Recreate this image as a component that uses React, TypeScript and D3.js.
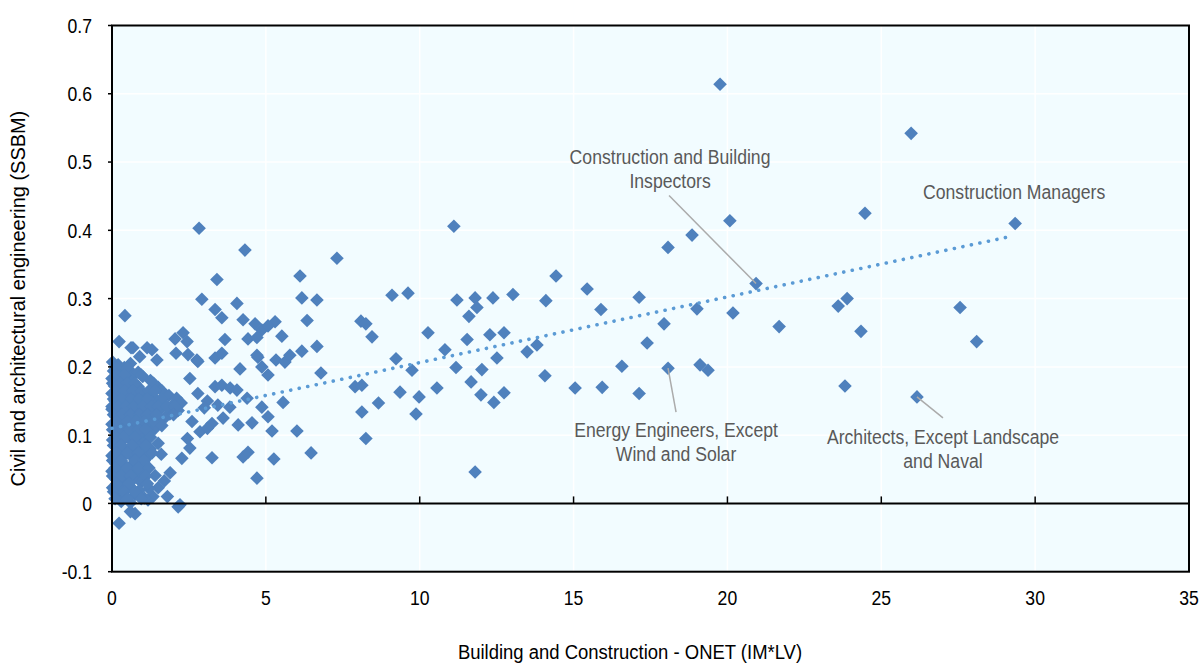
import React from 'react';
import * as d3 from 'd3';

// ---------- DATA ----------
const xTickValues = [0, 5, 10, 15, 20, 25, 30, 35];
const yTickValues = [-0.1, 0, 0.1, 0.2, 0.3, 0.4, 0.5, 0.6, 0.7];
const yTickLabels = ['-0.1', '0', '0.1', '0.2', '0.3', '0.4', '0.5', '0.6', '0.7'];
const xTickLabels = ['0', '5', '10', '15', '20', '25', '30', '35'];
const xTitle = 'Building and Construction - ONET (IM*LV)';
const yTitle = 'Civil and architectural engineering (SSBM)';

// occupations: x = Building and Construction (IM*LV), y = Civil and architectural engineering (SSBM)
const spreadX = [
  19.76, 25.97, 24.47, 29.35, 20.08, 18.85, 18.07, 11.11, 14.43, 15.44, 20.93, 21.68, 20.18, 17.13,
  15.89, 14.10, 13.03, 12.38, 11.80, 11.21, 11.86, 11.60, 19.01, 17.94, 17.39, 16.57, 18.07, 19.11,
  19.37, 17.13, 15.93, 15.05, 14.07, 10.27, 11.54, 12.28, 12.74, 10.82, 12.51, 13.49, 13.81, 9.75,
  11.18, 12.02, 11.67, 9.36, 9.98, 10.56, 11.99, 12.41, 12.74, 9.88, 11.80, 9.10, 9.62, 9.23, 8.66,
  27.56, 28.10, 23.89, 23.60, 24.34, 23.82, 26.16,
  7.31, 6.11, 6.17, 6.66, 6.34, 8.09, 8.25, 8.45, 5.30, 5.52, 4.74, 4.87, 5.07, 5.33, 5.62, 5.78,
  6.17, 6.66, 6.79, 7.90, 8.12, 5.56, 4.87, 5.07, 5.20, 6.01, 8.12, 8.25, 5.26, 6.47, 4.71,
  2.83, 4.32, 3.41, 2.92, 4.06, 3.35, 3.57, 0.42, 4.26, 4.65, 4.87, 0.23, 0.62, 1.14, 1.30, 2.05,
  2.31, 2.44, 3.67, 4.42, 4.71, 2.08, 2.47, 4.71, 5.07, 2.79, 3.35, 3.57, 4.16, 2.53, 3.35, 3.57,
  3.84, 4.06, 4.39, 3.44, 3.83, 3.61, 4.10, 4.55, 3.25, 4.26, 4.42, 2.86, 2.53, 2.27, 2.21, 2.15,
  0.75, 0.60, 0.23, 1.89, 1.50, 1.33, 1.80, 1.17, 2.79, 3.25, 0.68, 0.90, 1.46, 2.76, 3.10, 3.00,
  2.60, 3.10, 2.45,
];
const spreadY = [
  0.614, 0.542, 0.425, 0.410, 0.414, 0.393, 0.375, 0.406, 0.333, 0.314, 0.322, 0.259, 0.279, 0.302,
  0.284, 0.297, 0.306, 0.301, 0.301, 0.298, 0.287, 0.274, 0.285, 0.263, 0.235, 0.201, 0.198, 0.203,
  0.195, 0.161, 0.170, 0.169, 0.187, 0.250, 0.240, 0.247, 0.250, 0.225, 0.213, 0.222, 0.232, 0.195,
  0.199, 0.196, 0.178, 0.163, 0.156, 0.169, 0.159, 0.148, 0.162, 0.131, 0.046, 0.305, 0.308, 0.212, 0.147,
  0.287, 0.237, 0.300, 0.289, 0.252, 0.172, 0.156,
  0.359, 0.333, 0.301, 0.298, 0.268, 0.267, 0.263, 0.244, 0.266, 0.245, 0.214, 0.200, 0.188, 0.210,
  0.207, 0.217, 0.223, 0.230, 0.191, 0.171, 0.173, 0.148, 0.141, 0.127, 0.106, 0.106, 0.134, 0.095,
  0.065, 0.074, 0.037,
  0.403, 0.371, 0.328, 0.299, 0.293, 0.284, 0.272, 0.275, 0.269, 0.263, 0.254, 0.237, 0.228, 0.228,
  0.225, 0.241, 0.250, 0.237, 0.240, 0.241, 0.243, 0.220, 0.218, 0.217, 0.260, 0.208, 0.213, 0.220,
  0.197, 0.183, 0.171, 0.173, 0.169, 0.166, 0.154, 0.144, 0.141, 0.125, 0.115, 0.118, 0.067, 0.068,
  0.075, 0.105, 0.081, 0.066, -0.002, -0.005, -0.015, -0.012, -0.029, 0.045, 0.023, 0.010, 0.010,
  0.005, 0.161, 0.117, 0.228, 0.215, 0.210, 0.210, 0.150, 0.140, 0.120, 0.110, 0.095,
];
// dense cluster of occupations with little building content
const clusterX = [
  0.02, 0.2, 0.4, 0.6,
  0.05, 0.28, 0.55, 0.7, 0.85,
  0.0, 0.18, 0.45, 0.62, 1.0, 1.25,
  0.08, 0.35, 0.58, 0.85, 1.5, 1.62,
  0.0, 0.22, 0.5, 0.78, 1.08, 1.3, 1.85, 2.1,
  0.1, 0.38, 0.66, 0.95, 1.22, 1.45, 1.7, 1.95, 2.25,
  0.0, 0.26, 0.52, 0.8, 1.1, 1.38, 1.6, 1.88, 2.15,
  0.12, 0.4, 0.7, 0.98, 1.25, 1.52, 1.75,
  0.0, 0.28, 0.56, 0.85, 1.12, 1.4, 1.62,
  0.15, 0.42, 0.7, 0.97, 1.22,
  0.02, 0.3, 0.58, 0.86, 1.1, 1.5,
  0.18, 0.45, 0.72, 1.0, 1.25,
  0.0, 0.3, 0.6, 0.88, 1.15, 1.6,
  0.12, 0.4, 0.7, 0.98,
  0.0, 0.26, 0.55, 0.82, 1.05, 1.4,
  0.14, 0.42, 0.7, 0.95, 1.7,
  0.02, 0.3, 0.6, 0.88, 1.2,
  0.16, 0.45, 0.75, 1.05,
  0.3, 0.6,
  0.12, 0.48,
  0.15, 0.4, 0.95,
  0.02, 0.25, 0.5, 0.75, 1.35,
  0.12, 0.4, 0.68, 0.95, 1.2, 1.4,
  0.05, 0.3, 0.62, 0.88, 1.15, 1.6,
  0.0, 0.2, 0.45, 0.7, 1.0, 1.28, 1.5, 1.78, 2.05,
  0.05, 0.32, 0.6, 0.9, 1.15, 1.45, 2.0,
  0.15, 0.5, 0.78, 1.05, 1.35,
  0.02, 0.3, 0.55, 0.85, 1.1,
  0.12, 0.4, 0.75, 1.25,
  0.05, 0.3, 0.65, 1.1,
  0.15, 0.5, 0.85, 1.3,
  0.02, 0.3, 0.75, 1.05,
  0.1, 0.5, 0.85, 1.2,
  0.02, 0.3, 0.6, 1.1,
  0.15, 0.55, 1.15,
  0.05, 0.4, 0.75,
  0.1, 0.5, 0.95,
];
const clusterY = [
  0.207, 0.203, 0.199, 0.205,
  0.194, 0.191, 0.196, 0.188, 0.192,
  0.183, 0.180, 0.184, 0.178, 0.186, 0.180,
  0.172, 0.170, 0.166, 0.171, 0.170, 0.165,
  0.161, 0.158, 0.160, 0.156, 0.160, 0.156, 0.158, 0.154,
  0.150, 0.146, 0.149, 0.145, 0.148, 0.151, 0.146, 0.143, 0.147,
  0.138, 0.136, 0.139, 0.134, 0.137, 0.133, 0.139, 0.131, 0.136,
  0.127, 0.124, 0.128, 0.122, 0.126, 0.121, 0.127,
  0.116, 0.113, 0.117, 0.112, 0.115, 0.110, 0.114,
  0.104, 0.101, 0.105, 0.099, 0.103,
  0.093, 0.090, 0.094, 0.089, 0.092, 0.088,
  0.081, 0.078, 0.082, 0.077, 0.080,
  0.070, 0.067, 0.071, 0.066, 0.068, 0.072,
  0.058, 0.056, 0.059, 0.054,
  0.047, 0.044, 0.048, 0.043, 0.046, 0.041,
  0.035, 0.032, 0.036, 0.031, 0.033,
  0.023, 0.020, 0.024, 0.019, 0.022,
  0.012, 0.009, 0.013, 0.008,
  0.003, 0.001,
  0.198, 0.198,
  0.188, 0.188, 0.188,
  0.176, 0.176, 0.176, 0.176, 0.176,
  0.165, 0.165, 0.165, 0.165, 0.165, 0.165,
  0.153, 0.153, 0.153, 0.153, 0.153, 0.153,
  0.142, 0.142, 0.142, 0.142, 0.142, 0.142, 0.142, 0.142, 0.142,
  0.130, 0.130, 0.130, 0.130, 0.130, 0.130, 0.130,
  0.120, 0.120, 0.120, 0.120, 0.120,
  0.108, 0.108, 0.108, 0.108, 0.108,
  0.097, 0.097, 0.097, 0.097,
  0.085, 0.085, 0.085, 0.085,
  0.074, 0.074, 0.074, 0.074,
  0.063, 0.063, 0.063, 0.063,
  0.052, 0.052, 0.052, 0.052,
  0.040, 0.040, 0.040, 0.040,
  0.029, 0.029, 0.029,
  0.017, 0.017, 0.017,
  0.007, 0.007, 0.007,
];

// linear trend (start, end)
const trendX = [0, 29.1];
const trendY = [0.11, 0.39];

// labelled occupations
const labelNames = [
  ['Construction and Building', 'Inspectors'],
  ['Energy Engineers, Except', 'Wind and Solar'],
  ['Architects, Except Landscape', 'and Naval'],
  ['Construction Managers'],
];
const labelX = [20.93, 18.07, 26.16, 29.35];
const labelY = [0.322, 0.198, 0.156, 0.41];

// ---------- LAYOUT / STYLE ----------
const W = 1200;
const H = 664;
const plot = { left: 112, right: 1189, top: 25.5, bottom: 571.7 };
const FONT = "'Liberation Sans', Arial, sans-serif";
const MARKER = '#4F81BD';
const TREND = '#5B9BD5';
const LABEL_GREY = '#595959';
const LEADER = '#ABABAB';

// label placement relative to the point (px): text centre x offset, first baseline y offset, leader end
const labelLayout = [
  { tx: -86, ty: -120, lx: -87, ly: -88 },
  { tx: 8, ty: 69, lx: 8, ly: 44 },
  { tx: 26, ty: 47, lx: 26, ly: 21 },
  { tx: -1, ty: -24, lx: null as number | null, ly: null as number | null },
];

function NText(props: {
  x: number;
  y: number;
  size: number;
  narrow?: number;
  anchor?: string;
  fill?: string;
  rotate?: number;
  dy?: string;
  children: React.ReactNode;
}) {
  const { x, y, size, narrow = 0.84, anchor = 'start', fill = '#000', rotate = 0, dy } = props;
  return (
    <text
      transform={`translate(${x},${y}) rotate(${rotate}) scale(${narrow},1)`}
      textAnchor={anchor}
      fontSize={size}
      fill={fill}
      dy={dy}
    >
      {props.children}
    </text>
  );
}

export default function App() {
  const x = d3.scaleLinear().domain([0, 35]).range([plot.left, plot.right]);
  const y = d3.scaleLinear().domain([-0.1, 0.7]).range([plot.bottom, plot.top]);

  const pts: [number, number][] = [];
  spreadX.forEach((v, i) => pts.push([v, spreadY[i]]));
  clusterX.forEach((v, i) => pts.push([v, clusterY[i]]));

  const diamond = d3.symbol().type(d3.symbolDiamond2).size(118)();
  const trendPath = d3
    .line<number>()
    .x((d) => x(trendX[d]))
    .y((d) => y(trendY[d]))([0, 1]);

  const y0 = y(0);

  return (
    <svg
      width={W}
      height={H}
      viewBox={`0 0 ${W} ${H}`}
      style={{ position: 'absolute', left: 0, top: 0, background: '#fff' }}
      fontFamily={FONT}
    >
      {/* plot background */}
      <rect
        x={plot.left}
        y={plot.top}
        width={plot.right - plot.left}
        height={plot.bottom - plot.top}
        fill="#F2FCFF"
      />
      {/* gridlines */}
      {yTickValues.map((t) => (
        <line key={'gy' + t} x1={plot.left} x2={plot.right} y1={y(t)} y2={y(t)} stroke="#fff" strokeWidth={1.5} />
      ))}
      {xTickValues.map((t) => (
        <line key={'gx' + t} x1={x(t)} x2={x(t)} y1={plot.top} y2={plot.bottom} stroke="#fff" strokeWidth={1.5} />
      ))}

      {/* points */}
      {pts.map((p, i) => (
        <path key={'p' + i} d={diamond as string} transform={`translate(${x(p[0])},${y(p[1])})`} fill={MARKER} />
      ))}

      {/* zero line and ticks */}
      <line x1={plot.left} x2={plot.right} y1={y0} y2={y0} stroke="#000" strokeWidth={2} />
      {xTickValues.map((t) => (
        <line key={'xt' + t} x1={x(t)} x2={x(t)} y1={y0} y2={y0 - 7} stroke="#000" strokeWidth={1.5} />
      ))}

      {/* frame */}
      <rect
        x={plot.left}
        y={plot.top}
        width={plot.right - plot.left}
        height={plot.bottom - plot.top}
        fill="none"
        stroke="#000"
        strokeWidth={2}
      />
      {yTickValues.map((t) => (
        <line key={'yt' + t} x1={plot.left - 4} x2={plot.left} y1={y(t)} y2={y(t)} stroke="#000" strokeWidth={1.5} />
      ))}

      {/* trend line */}
      <path
        d={trendPath as string}
        fill="none"
        stroke={TREND}
        strokeWidth={3.6}
        strokeLinecap="round"
        strokeDasharray="0.1 8.6"
      />

      {/* annotations */}
      {labelNames.map((lines, i) => {
        const px = x(labelX[i]);
        const py = y(labelY[i]);
        const L = labelLayout[i];
        return (
          <g key={'lab' + i}>
            {L.lx !== null && (
              <line x1={px} y1={py} x2={px + (L.lx as number)} y2={py + (L.ly as number)} stroke={LEADER} strokeWidth={1.5} />
            )}
            {lines.map((s, j) => (
              <NText key={j} x={px + L.tx} y={py + L.ty + j * 24} anchor="middle" size={21} fill={LABEL_GREY}>
                {s}
              </NText>
            ))}
          </g>
        );
      })}

      {/* tick labels */}
      {yTickValues.map((t, i) => (
        <NText key={'yl' + t} x={92} y={y(t)} dy="0.35em" anchor="end" size={21}>
          {yTickLabels[i]}
        </NText>
      ))}
      {xTickValues.map((t, i) => (
        <NText key={'xl' + t} x={x(t)} y={605} anchor="middle" size={21}>
          {xTickLabels[i]}
        </NText>
      ))}

      {/* axis titles */}
      <NText x={630} y={659} anchor="middle" size={21} narrow={0.88}>
        {xTitle}
      </NText>
      <NText x={25} y={(plot.top + plot.bottom) / 2} rotate={-90} anchor="middle" size={21} narrow={0.95}>
        {yTitle}
      </NText>
    </svg>
  );
}
